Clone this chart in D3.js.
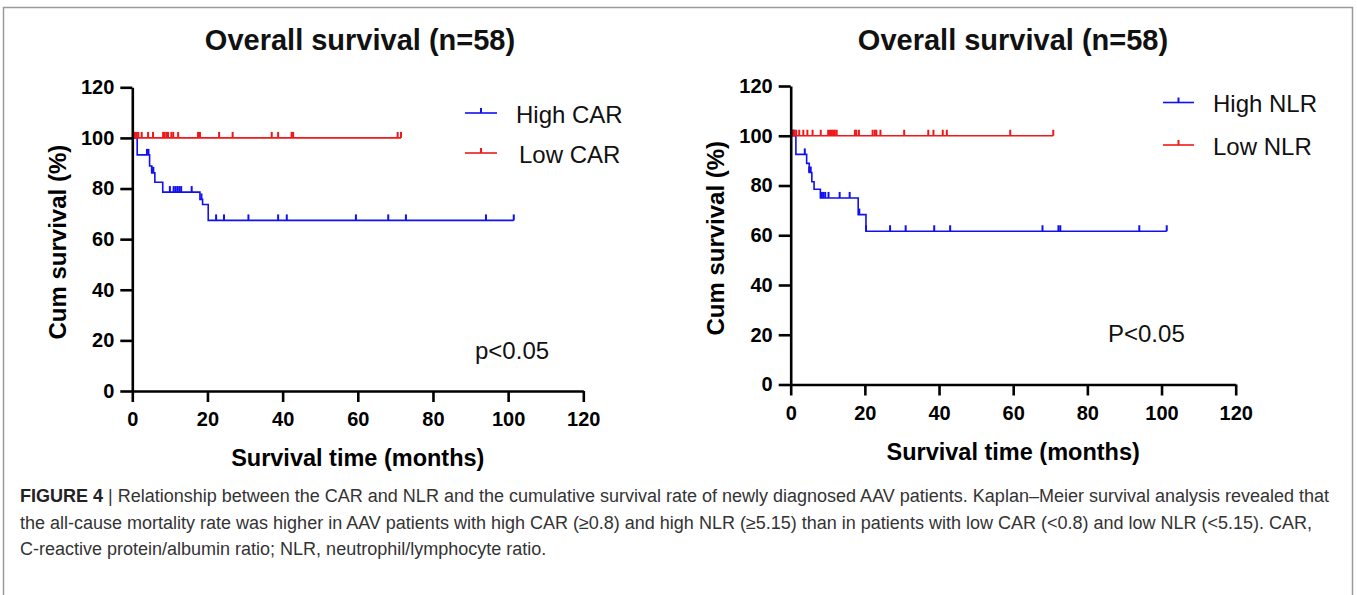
<!DOCTYPE html>
<html>
<head>
<meta charset="utf-8">
<script src="https://cdn.jsdelivr.net/npm/d3@7"></script>
<style>
  html, body { margin: 0; padding: 0; background: #fff; }
  svg { display: block; font-family: "Liberation Sans", Arial, Helvetica, sans-serif; }
</style>
</head>
<body>
<svg id="chart" width="1357" height="595"></svg>
<script>
// ---------- data ----------
const xTicks = [0, 20, 40, 60, 80, 100, 120];
const yTicks = [0, 20, 40, 60, 80, 100, 120];

// [time (months), survival (%) from this time on]
const carHighSteps = [[0,100],[1.3,93.3],[4.6,88.9],[5.2,86.2],[6.0,82.5],[8.1,78.6],[18.0,75.7],[18.7,73.7],[20.2,67.4],[101.5,67.4]];
const carHighCensor = [0.5,3.9,4.3,5.2,5.6,10.0,11.0,11.5,12.0,12.5,13.0,15.8,18.4,22.3,24.4,30.9,38.8,41.1,59.5,68.1,72.8,94.1,101.5];
const carLowSteps = [[0,100],[71.5,100]];
const carLowCensor = [0.7,1.2,1.6,2.5,4.2,5.5,8.2,8.6,9.1,9.5,10.4,10.9,12.2,17.5,18.0,23.1,26.7,37.1,38.8,42.4,42.8,70.6,71.5];

const nlrHighSteps = [[0,100],[1.4,92.5],[4.3,88.9],[5.0,85.2],[5.7,81.5],[6.3,78.5],[8.0,75.0],[18.2,68.3],[20.3,61.6],[101.4,61.6]];
const nlrHighCensor = [0.6,1.0,3.8,5.0,5.4,8.4,8.8,9.3,10.2,13.2,15.9,18.5,20.3,26.8,31.0,38.7,43.0,67.9,72.2,72.7,94.0,101.4];
const nlrLowSteps = [[0,100],[70.8,100]];
const nlrLowCensor = [0.5,1.0,1.5,2.3,3.4,4.5,5.9,8.1,10.1,10.6,11.1,11.5,11.9,12.4,17.3,17.7,18.4,22.1,22.7,23.1,24.2,30.6,37.1,38.5,41.0,42.1,59.2,70.8];

const titles = ["Overall survival (n=58)", "Overall survival (n=58)"];
const legendLabels = [["High CAR", "Low CAR"], ["High NLR", "Low NLR"]];
const pLabels = ["p<0.05", "P<0.05"];
const yLabel = "Cum survival (%)";
const xLabel = "Survival time (months)";
const captionBold = "FIGURE 4";
const captionLines = [
  " | Relationship between the CAR and NLR and the cumulative survival rate of newly diagnosed AAV patients. Kaplan\u2013Meier survival analysis revealed that",
  "the all-cause mortality rate was higher in AAV patients with high CAR (\u22650.8) and high NLR (\u22655.15) than in patients with low CAR (<0.8) and low NLR (<5.15). CAR,",
  "C-reactive protein/albumin ratio; NLR, neutrophil/lymphocyte ratio."
];

// ---------- drawing ----------
const svg = d3.select("#chart");
const BLUE = "#1010f0", RED = "#f01818";

svg.append("path").attr("d", "M3.5,600 V7.5 H1352.5 V600")
  .attr("fill", "none").attr("stroke", "#9a9a9a").attr("stroke-width", 1.5);

const panels = [
  { x0: 132.3, x1: 583.3, y0: 391, y1: 87.3, titleX: 360, yLabX: 57, xLabY: 458,
    series: [[carHighSteps, carHighCensor, BLUE], [carLowSteps, carLowCensor, RED]],
    legend: { lx0: 465, lx1: 497, tx: 516, ys: [113, 153] }, pPos: [475, 350] },
  { x0: 790.7, x1: 1235.7, y0: 384.5, y1: 86, titleX: 1013, yLabX: 715, xLabY: 452,
    series: [[nlrHighSteps, nlrHighCensor, BLUE], [nlrLowSteps, nlrLowCensor, RED]],
    legend: { lx0: 1163, lx1: 1194, tx: 1213, ys: [102.5, 145] }, pPos: [1108, 333] }
];

function survAt(steps, t) {
  let s = steps[0][1];
  for (const [tt, v] of steps) { if (tt <= t + 1e-9) s = v; }
  return s;
}

panels.forEach((p, i) => {
  const x = d3.scaleLinear().domain([0, 120]).range([p.x0, p.x1]);
  const y = d3.scaleLinear().domain([0, 120]).range([p.y0, p.y1]);
  const g = svg.append("g");

  // title
  g.append("text").attr("x", p.titleX).attr("y", 50).attr("text-anchor", "middle")
    .attr("font-size", 29).attr("font-weight", "bold").attr("fill", "#111").text(titles[i]);

  // curves
  const line = d3.line().x(d => x(d[0])).y(d => y(d[1])).curve(d3.curveStepAfter);
  p.series.forEach(([steps, censor, col]) => {
    g.append("path").attr("d", line(steps)).attr("fill", "none")
      .attr("stroke", col).attr("stroke-width", 1.6);
    g.selectAll(null).data(censor).enter().append("line")
      .attr("x1", d => x(d)).attr("x2", d => x(d))
      .attr("y1", d => y(survAt(steps, d))).attr("y2", d => y(survAt(steps, d)) - 6)
      .attr("stroke", col).attr("stroke-width", 2);
  });

  // axes
  const xa = g.append("g").attr("transform", `translate(0,${p.y0})`)
    .call(d3.axisBottom(x).tickValues(xTicks).tickSize(11).tickSizeOuter(0).tickPadding(10));
  const ya = g.append("g").attr("transform", `translate(${p.x0},0)`)
    .call(d3.axisLeft(y).tickValues(yTicks).tickSize(12).tickSizeOuter(0).tickPadding(6));
  [xa, ya].forEach(a => {
    a.select(".domain").attr("stroke", "#000").attr("stroke-width", 2.6);
    a.selectAll(".tick line").attr("stroke", "#000").attr("stroke-width", 2.6);
    a.selectAll(".tick text").attr("fill", "#000").attr("font-size", 20).attr("font-weight", "bold")
      .attr("font-family", "'Liberation Sans', Arial, sans-serif");
  });

  // axis labels
  g.append("text").attr("transform", `translate(${p.yLabX},${(p.y0 + p.y1) / 2 + 3}) rotate(-90)`)
    .attr("text-anchor", "middle").attr("dominant-baseline", "central")
    .attr("font-size", 24).attr("font-weight", "bold").attr("fill", "#000").text(yLabel);
  g.append("text").attr("x", (p.x0 + p.x1) / 2).attr("y", p.xLabY).attr("text-anchor", "middle")
    .attr("dominant-baseline", "central")
    .attr("font-size", 23.5).attr("font-weight", "bold").attr("fill", "#000").text(xLabel);

  // legend
  p.series.forEach(([, , col], k) => {
    const ly = p.legend.ys[k];
    g.append("line").attr("x1", p.legend.lx0).attr("x2", p.legend.lx1).attr("y1", ly).attr("y2", ly)
      .attr("stroke", col).attr("stroke-width", 1.6);
    const mx = (p.legend.lx0 + p.legend.lx1) / 2;
    g.append("line").attr("x1", mx).attr("x2", mx).attr("y1", ly).attr("y2", ly - 5)
      .attr("stroke", col).attr("stroke-width", 2);
    g.append("text").attr("x", p.legend.tx + (k === 1 && i === 0 ? 3 : 0)).attr("y", ly + 1)
      .attr("dominant-baseline", "central").attr("font-size", 24).attr("fill", "#111")
      .text(legendLabels[i][k]);
  });

  // p value
  g.append("text").attr("x", p.pPos[0]).attr("y", p.pPos[1]).attr("dominant-baseline", "central")
    .attr("font-size", 24).attr("fill", "#111").text(pLabels[i]);
});

// caption
const capY = [496, 523, 549];
captionLines.forEach((ln, k) => {
  const t = svg.append("text").attr("x", 20).attr("y", capY[k]).attr("dominant-baseline", "central")
    .attr("font-size", 18).attr("fill", "#333");
  if (k === 0) t.append("tspan").attr("font-weight", "bold").attr("fill", "#222").text(captionBold);
  t.append("tspan").text(ln);
});
</script>
</body>
</html>
